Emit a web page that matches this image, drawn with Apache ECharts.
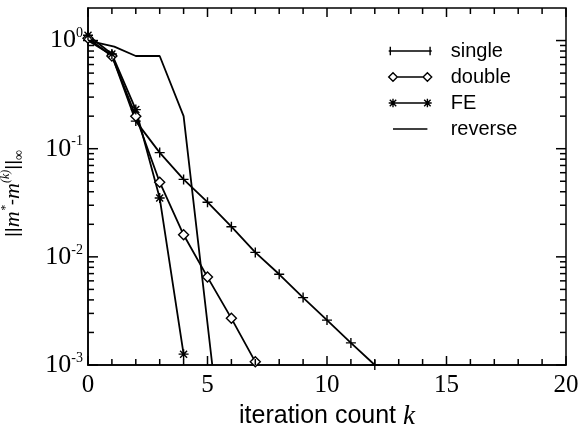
<!DOCTYPE html>
<html>
<head>
<meta charset="utf-8">
<script src="https://cdn.jsdelivr.net/npm/echarts@6/dist/echarts.min.js"></script>
<style>
  html, body { margin: 0; padding: 0; background: #fff; }
  #chart { width: 579px; height: 427px; }
</style>
</head>
<body>
<div id="chart"></div>
<script>
// Convergence of the error norm against iteration count
const seriesNames = ['single', 'double', 'FE', 'reverse'];

const singleData = [[0, 1.0], [1, 0.73], [2, 0.18], [3, 0.092], [4, 0.052], [5, 0.032], [6, 0.019],
  [7, 0.011], [8, 0.0069], [9, 0.0042], [10, 0.0026], [11, 0.0016], [12, 0.001]];
const doubleData = [[0, 1.05], [1, 0.72], [2, 0.2], [3, 0.049], [4, 0.016], [5, 0.0065],
  [6, 0.0027], [7, 0.00107]];
const feData = [[0, 1.12], [1, 0.75], [2, 0.23], [3, 0.035], [4, 0.00126]];
const reverseData = [[0, 1.0], [1.1, 0.88], [2, 0.72], [3, 0.72], [4, 0.2], [5.2, 0.001]];

// Tick values (frame ticks on all four sides)
const xTickLabels = [0, 5, 10, 15, 20];
const xMinorTicks = [1, 2, 3, 4, 6, 7, 8, 9, 11, 12, 13, 14, 16, 17, 18, 19];
const yMajorTicks = [0.001, 0.01, 0.1, 1];
const yMinorMantissas = [2, 3, 4, 5, 6, 7, 8, 9];

const PLUS = 'path://M0,5L10,5M5,0L5,10';
const STAR = 'path://M0,5L10,5M5,0L5,10M1.5,1.5L8.5,8.5M8.5,1.5L1.5,8.5';

const LEGEND_ICONS = {
  single: 'path://M0,5L40,5M1.5,1L1.5,9M38.5,1L38.5,9',
  double: 'path://M0,5L4,1L8,5L4,9ZM40,5L36,1L32,5L36,9ZM8,5L32,5',
  FE: 'path://M0,5L40,5M4,1L4,9M0,5L8,5M1,2L7,8M7,2L1,8M36,1L36,9M32,5L40,5M33,2L39,8M39,2L33,8',
  reverse: 'path://M0,1L0,1M4,5L36,5M40,9L40,9'
};

const serif = '"Liberation Serif", "Times New Roman", serif';
const sans = '"Liberation Sans", Arial, sans-serif';

const chart = echarts.init(document.getElementById('chart'), null, { renderer: 'canvas' });

const markStyle = { color: '#fff', borderColor: '#000', borderWidth: 1.4 };

function lineSeries(name, data, symbol, size) {
  return {
    name, type: 'line', data,
    symbol, symbolSize: size, showSymbol: symbol !== 'none',
    lineStyle: { color: '#000', width: 1.8 },
    itemStyle: markStyle,
    emphasis: { disabled: true },
    animation: false, z: 3
  };
}

// tick rows: [x, y, kind, side]
// kind 0 = x major, 1 = x minor, 2 = y major, 3 = y minor; side 0 = bottom/left, 1 = top/right
const tickRows = [];
[0, 1].forEach(side => {
  xTickLabels.forEach(v => tickRows.push([v, 1, 0, side]));
  xMinorTicks.forEach(v => tickRows.push([v, 1, 1, side]));
  yMajorTicks.forEach(v => tickRows.push([1, v, 2, side]));
  yMajorTicks.slice(0, 3).forEach(p =>
    yMinorMantissas.forEach(m => tickRows.push([1, +(m * p).toPrecision(3), 3, side])));
});

const tickStyle = { stroke: '#000', lineWidth: 1.5 };

function renderTick(params, api) {
  const kind = api.value(2);
  const side = api.value(3);
  const cs = params.coordSys;
  if (kind < 2) {
    const px = api.coord([api.value(0), 1])[0];
    const len = kind === 0 ? 9 : 6;
    const y0 = side === 0 ? cs.y + cs.height : cs.y;
    const y1 = side === 0 ? y0 - len : y0 + len;
    return { type: 'line', shape: { x1: px, y1: y0, x2: px, y2: y1 }, style: tickStyle };
  }
  const py = api.coord([1, api.value(1)])[1];
  const len = kind === 2 ? 10 : 6;
  const x0 = side === 0 ? cs.x : cs.x + cs.width;
  const x1 = side === 0 ? x0 + len : x0 - len;
  return { type: 'line', shape: { x1: x0, y1: py, x2: x1, y2: py }, style: tickStyle };
}

const yTitle = '{n|||}{i|m}{sp|*}{n|-}{i|m}{sp|(k)}{n|||}{sb|∞}';

const option = {
  backgroundColor: '#fff',
  animation: false,
  grid: {
    left: 88, right: 13, top: 8, bottom: 62, outerBoundsMode: 'none',
    show: true, borderColor: '#000', borderWidth: 1.5, backgroundColor: 'transparent'
  },
  xAxis: {
    type: 'value', min: 0, max: 20, interval: 5,
    axisLine: { show: true, onZero: false, lineStyle: { color: '#000', width: 1.5 } },
    axisTick: { show: false },
    splitLine: { show: false },
    axisLabel: {
      margin: 8, color: '#000', fontFamily: serif, fontSize: 25,
      formatter: v => (xTickLabels.includes(v) ? String(v) : '')
    },
    name: '{t|iteration count }{k|k}', nameLocation: 'middle', nameGap: 38,
    nameTextStyle: {
      rich: {
        t: { fontFamily: sans, fontSize: 25, color: '#000' },
        k: { fontFamily: serif, fontStyle: 'italic', fontSize: 27, color: '#000' }
      }
    }
  },
  yAxis: {
    type: 'log', logBase: 10, min: 0.001, max: 2,
    axisLine: { show: true, onZero: false, lineStyle: { color: '#000', width: 1.5 } },
    axisTick: { show: false },
    splitLine: { show: false },
    axisLabel: {
      margin: 5, color: '#000', showMaxLabel: false,
      formatter: v => {
        const e = Math.round(Math.log10(v));
        if (Math.abs(Math.log10(v) - e) > 1e-6) return '';
        return '{b|10}{s|' + e + '}';
      },
      rich: {
        b: { fontFamily: serif, fontSize: 26, color: '#000', lineHeight: 28 },
        s: { fontFamily: serif, fontSize: 14, color: '#000', verticalAlign: 'top', lineHeight: 28 }
      }
    },
    name: yTitle, nameLocation: 'middle', nameGap: 62, nameRotate: 90,
    nameTextStyle: {
      padding: [0, 14, 0, 0],
      rich: {
        n: { fontFamily: sans, fontSize: 19, color: '#000', lineHeight: 26 },
        i: { fontFamily: serif, fontStyle: 'italic', fontSize: 22, color: '#000', lineHeight: 26 },
        sp: { fontFamily: serif, fontStyle: 'italic', fontSize: 12, color: '#000', verticalAlign: 'top', lineHeight: 26 },
        sb: { fontFamily: serif, fontSize: 14, color: '#000', verticalAlign: 'bottom', lineHeight: 26 }
      }
    }
  },
  legend: {
    show: true,
    orient: 'vertical', left: 383, top: 36,
    itemWidth: 43, itemHeight: 10, itemGap: 6,
    selectedMode: false,
    itemStyle: { color: '#fff', borderColor: '#000', borderWidth: 1.4 },
    textStyle: { fontFamily: sans, fontSize: 20, color: '#000' },
    formatter: name => '\u2002\u2009' + name,
    data: seriesNames.map(n => ({ name: n, icon: LEGEND_ICONS[n] }))
  },
  series: [
    lineSeries('single', singleData, PLUS, 10),
    lineSeries('double', doubleData, 'diamond', 10),
    lineSeries('FE', feData, STAR, 10),
    lineSeries('reverse', reverseData, 'none', 0),
    {
      type: 'custom', data: tickRows,
      encode: { x: 0, y: 1 }, renderItem: renderTick,
      silent: true, clip: false, z: 4, animation: false
    }
  ]
};

chart.setOption(option);
</script>
</body>
</html>
